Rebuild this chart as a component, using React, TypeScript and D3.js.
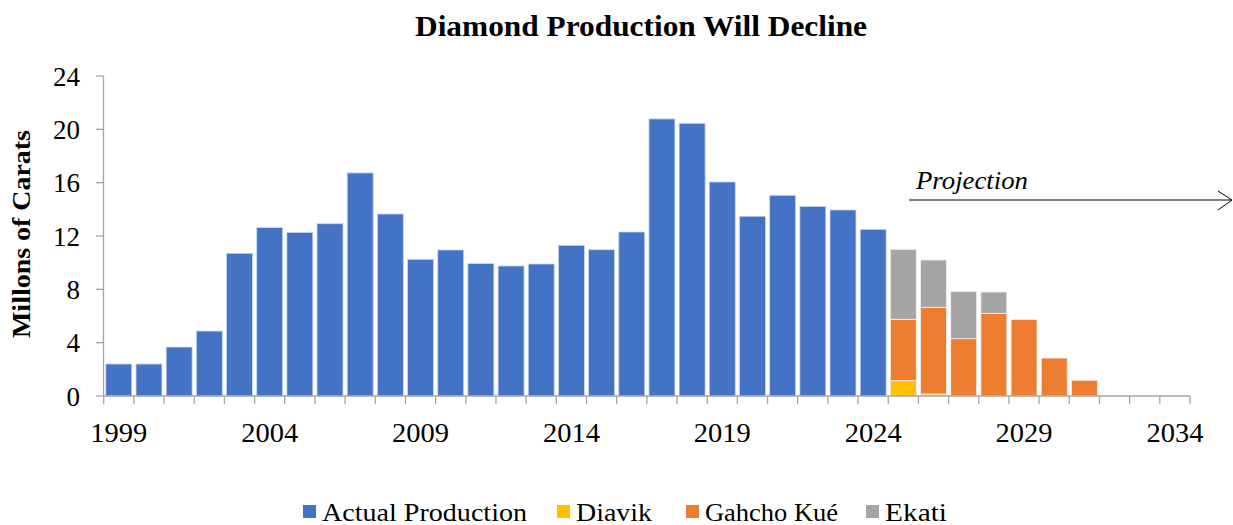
import React from "react";
import * as d3 from "d3";

const years: number[] = d3.range(1999, 2035);
const actual: number[] = [2.4, 2.4, 3.67, 4.87, 10.7, 12.63, 12.27, 12.92, 16.73, 13.65, 10.25, 10.95, 9.93, 9.75, 9.9, 11.3, 10.97, 12.3, 20.78, 20.45, 16.05, 13.48, 15.05, 14.22, 13.95, 12.5];
const projYears: number[] = [2025, 2026, 2027, 2028, 2029, 2030, 2031, 2032, 2033, 2034];
const diavik: number[] = [1.15, 0.15, 0, 0, 0, 0, 0, 0, 0, 0];
const gahcho: number[] = [4.6, 6.5, 4.3, 6.2, 5.75, 2.85, 1.18, 0, 0, 0];
const ekati: number[] = [5.25, 3.55, 3.55, 1.6, 0, 0, 0, 0, 0, 0];
const yTicks: number[] = [0, 4, 8, 12, 16, 20, 24];
const xLabelYears: number[] = [1999, 2004, 2009, 2014, 2019, 2024, 2029, 2034];
const seriesNames: string[] = ["Actual Production", "Diavik", "Gahcho Kué", "Ekati"];
const colors: string[] = ["#4472C4", "#FFC000", "#ED7D31", "#A5A5A5"];

const FONT = "'Liberation Serif', 'Times New Roman', serif";

export default function App() {
  const x = d3.scaleBand<number>().domain(years).range([103.7, 1190]).paddingInner(0.14).paddingOuter(0.07);
  const y = d3.scaleLinear().domain([0, 24]).range([396, 76]);
  const step = x.step();
  const axisColor = "#a6a6a6";

  const stackRows = projYears.map((yr, i) => ({ year: yr, Diavik: diavik[i], "Gahcho Kué": gahcho[i], Ekati: ekati[i] }));
  const stacked = d3.stack<any>().keys(["Diavik", "Gahcho Kué", "Ekati"])(stackRows);

  const legendX = [303, 557, 686, 866];
  const legendW = [205, 76, 133, 62];

  return (
    <svg width={1233} height={525} style={{ position: "absolute", left: 0, top: 0, background: "#fff" }}>
      <text x={641} y={36} textAnchor="middle" fontFamily={FONT} fontWeight="bold" fontSize={29} textLength={452} lengthAdjust="spacingAndGlyphs">
        Diamond Production Will Decline
      </text>
      <text transform="translate(30,234) rotate(-90)" textAnchor="middle" fontFamily={FONT} fontWeight="bold" fontSize={25} textLength={208} lengthAdjust="spacingAndGlyphs">
        Millons of Carats
      </text>
      {/* y axis */}
      <line x1={103.5} x2={103.5} y1={y(24)} y2={y(0)} stroke={axisColor} strokeWidth={1.3} />
      {yTicks.map((t) => (
        <g key={t}>
          <line x1={96} x2={103.5} y1={y(t)} y2={y(t)} stroke={axisColor} strokeWidth={1.3} />
          <text x={80} y={y(t) + 9.5} textAnchor="end" fontFamily={FONT} fontSize={27}>
            {t}
          </text>
        </g>
      ))}
      {/* bars actual */}
      {actual.map((v, i) => (
        <rect key={"a" + i} x={x(years[i])} y={y(v)} width={x.bandwidth()} height={y(0) - y(v)} fill={colors[0]} stroke="#c9d6ee" strokeWidth={0.8} />
      ))}
      {stacked.map((s, si) =>
        s.map((d, i) =>
          d[1] - d[0] > 0 ? (
            <rect key={si + "-" + i} x={x(projYears[i])} y={y(d[1])} width={x.bandwidth()} height={y(d[0]) - y(d[1])} fill={colors[si + 1]} stroke="#f2f2f2" strokeWidth={0.8} />
          ) : null
        )
      )}
      {/* x axis */}
      <line x1={103.7} x2={1190} y1={396} y2={396} stroke={axisColor} strokeWidth={1.3} />
      {d3.range(0, years.length + 1).map((i) => (
        <line key={"t" + i} x1={103.7 + i * step} x2={103.7 + i * step} y1={396} y2={404} stroke={axisColor} strokeWidth={1.3} />
      ))}
      {xLabelYears.map((yr) => (
        <text key={yr} x={(x(yr) as number) + x.bandwidth() / 2} y={442} textAnchor="middle" fontFamily={FONT} fontSize={27} textLength={57} lengthAdjust="spacingAndGlyphs">
          {yr}
        </text>
      ))}
      {/* projection */}
      <text x={916} y={189} fontFamily={FONT} fontStyle="italic" fontSize={25} textLength={112} lengthAdjust="spacingAndGlyphs">
        Projection
      </text>
      <line x1={909} x2={1232} y1={200} y2={200} stroke="#000" strokeWidth={1} />
      <polyline points="1218,191 1232,200 1218,210" fill="none" stroke="#000" strokeWidth={1} />
      {/* legend */}
      {seriesNames.map((n, i) => (
        <g key={n}>
          <rect x={legendX[i]} y={505} width={13} height={13} fill={colors[i]} />
          <text x={legendX[i] + 19} y={521} fontFamily={FONT} fontSize={25} textLength={legendW[i]} lengthAdjust="spacingAndGlyphs">
            {n}
          </text>
        </g>
      ))}
    </svg>
  );
}
